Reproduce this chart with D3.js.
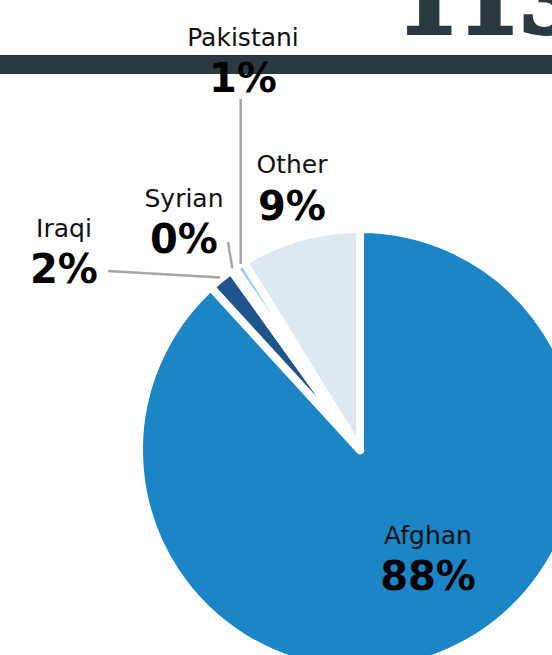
<!DOCTYPE html>
<html>
<head>
<meta charset="utf-8">
<script src="https://cdn.jsdelivr.net/npm/d3@7"></script>
<style>
  body { margin: 0; background: #fff; }
  svg { display: block; }
</style>
</head>
<body>
<svg width="552" height="655"></svg>
<script>
// data
var groups = ["Afghan", "Iraqi", "Syrian", "Pakistani", "Other"]
var shares = [88.2, 1.9, 0.3, 0.8, 8.8]
var colors = ["#1b85c5", "#1f548c", "#4a90c8", "#8ccbee", "#dee8f2"]
var title = "113"

// label layout (center x, name baseline, value baseline), leader start
var labelPos = [[428, 544, 590], [64, 237, 283], [184, 207, 253], [243, 46, 92], [292, 173, 220]]
var leaderFrom = [null, [108, 271], [228, 242], "vertical", null]

var svg = d3.select("svg")
var cx = 360, cy = 450, r = 221

svg.append("text")
  .attr("x", 397).attr("y", 33)
  .attr("font-family", "DejaVu Serif")
  .attr("font-weight", "bold")
  .attr("font-size", 88)
  .attr("fill", "#2b3a42")
  .attr("stroke", "#2b3a42")
  .attr("stroke-width", 4)
  .text(title)

svg.append("rect")
  .attr("x", 0).attr("y", 55)
  .attr("width", 552).attr("height", 19)
  .attr("fill", "#2b3a42")

var pie = d3.pie().sort(null).value(d => d)
var arcs = pie(shares)
var arc = d3.arc().innerRadius(0).outerRadius(r)

var g = svg.append("g").attr("transform", `translate(${cx},${cy})`)

g.selectAll("path")
  .data(arcs)
  .enter()
  .append("path")
    .attr("d", arc)
    .attr("fill", (d, i) => colors[i])
    .attr("stroke", "#fff")
    .attr("stroke-width", 8)
    .attr("stroke-linejoin", "round")

// leader lines for the thin slices
arcs.forEach(function (d, i) {
  var from = leaderFrom[i]
  if (!from) return
  var a = (d.startAngle + d.endAngle) / 2
  var ex = cx + 222 * Math.sin(a), ey = cy - 222 * Math.cos(a)
  var sx, sy
  if (from === "vertical") { sx = ex + 2; sy = 99; ex = sx }
  else { sx = from[0]; sy = from[1] }
  svg.append("line")
    .attr("x1", sx).attr("y1", sy)
    .attr("x2", ex).attr("y2", ey)
    .attr("stroke", "#a6a6a6")
    .attr("stroke-width", 2.5)
})

var labels = svg.append("g").attr("text-anchor", "middle").attr("font-family", "DejaVu Sans")
groups.forEach(function (name, i) {
  var p = labelPos[i]
  labels.append("text")
    .attr("x", p[0]).attr("y", p[1])
    .attr("font-size", 25)
    .attr("fill", "#111")
    .text(name)
  labels.append("text")
    .attr("x", p[0]).attr("y", p[2])
    .attr("font-size", 40)
    .attr("font-weight", "bold")
    .attr("fill", "#000")
    .text(Math.round(shares[i]) + "%")
})
</script>
</body>
</html>
